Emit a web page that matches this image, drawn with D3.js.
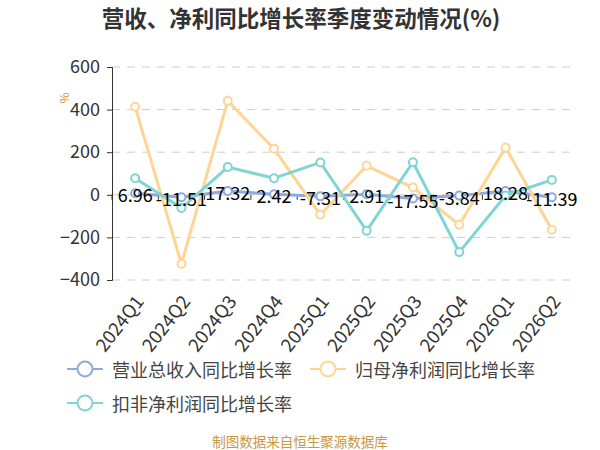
<!DOCTYPE html>
<html>
<head>
<meta charset="utf-8">
<script src="https://cdn.jsdelivr.net/npm/d3@7"></script>
<style>
  body { margin: 0; background: #fff; }
  svg text { font-family: "Noto Sans CJK SC", "Noto Sans", sans-serif; }
</style>
</head>
<body>
<div id="chart"></div>
<script>
// quarters and series values (%)
var quarters = ["2024Q1", "2024Q2", "2024Q3", "2024Q4", "2025Q1", "2025Q2", "2025Q3", "2025Q4", "2026Q1", "2026Q2"];
var revenueGrowth = [6.96, -11.51, 17.32, 2.42, -7.31, 2.91, -17.55, -3.84, 18.28, -11.39];
var netProfitGrowth = [413, -324, 441, 216, -94, 136, 34, -141, 222, -164];
var deductedProfitGrowth = [78, -62, 130, 78, 152, -169, 153, -269, -3, 70];
var yTicks = [-400, -200, 0, 200, 400, 600];
var seriesNames = ["营业总收入同比增长率", "归母净利润同比增长率", "扣非净利润同比增长率"];
var seriesColors = ["#8eaadb", "#fed595", "#80d4d4"];

var width = 600, height = 450;
var margin = { top: 67, right: 25, bottom: 170, left: 112 };

var svg = d3.select("#chart").append("svg")
    .attr("width", width)
    .attr("height", height);

// title
svg.append("text")
    .attr("x", 301)
    .attr("y", 17)
    .attr("text-anchor", "middle")
    .attr("dominant-baseline", "central")
    .attr("font-size", 22.5)
    .attr("font-weight", "bold")
    .attr("fill", "#333")
    .text("营收、净利同比增长率季度变动情况(%)");

var x = d3.scaleBand()
    .domain(quarters)
    .range([margin.left, width - margin.right]);

var y = d3.scaleLinear()
    .domain([-400, 600])
    .range([height - margin.bottom, margin.top]);

// grid lines
svg.append("g")
    .selectAll("line")
    .data(yTicks)
    .enter()
    .append("line")
    .attr("x1", margin.left)
    .attr("x2", width - margin.right)
    .attr("y1", function(d) { return y(d); })
    .attr("y2", function(d) { return y(d); })
    .attr("stroke", "#ccc")
    .attr("stroke-width", 1)
    .attr("stroke-dasharray", "8,7");

// y axis
var yAxis = d3.axisLeft(y)
    .tickValues(yTicks)
    .tickSize(5)
    .tickPadding(7);

var yG = svg.append("g")
    .attr("transform", "translate(" + margin.left + ",0)")
    .call(yAxis);
yG.select(".domain").attr("stroke", "#333");
yG.selectAll(".tick line").attr("stroke", "#333");
yG.selectAll(".tick text")
    .attr("font-size", 18)
    .attr("fill", "#333")
    .attr("font-family", "'Noto Sans', sans-serif");

// y axis unit
svg.append("text")
    .attr("transform", "translate(63,98) rotate(-90)")
    .attr("text-anchor", "middle")
    .attr("dominant-baseline", "central")
    .attr("font-size", 12)
    .attr("fill", "#d98c2b")
    .text("%");

// x ticks on the zero line at band boundaries
var boundaries = quarters.map(function(q) { return x(q); }).concat([x.range()[1]]);
svg.append("g")
    .selectAll("line")
    .data(boundaries)
    .enter()
    .append("line")
    .attr("x1", function(d) { return d; })
    .attr("x2", function(d) { return d; })
    .attr("y1", y(0))
    .attr("y2", y(0) + 5)
    .attr("stroke", "#333");

// x labels
svg.append("g")
    .selectAll("text")
    .data(quarters)
    .enter()
    .append("text")
    .attr("transform", function(d) {
        return "translate(" + (x(d) + x.bandwidth() / 2 + 3.5) + "," + (height - margin.bottom + 17) + ") rotate(-52)";
    })
    .attr("text-anchor", "end")
    .attr("dominant-baseline", "central")
    .attr("font-size", 18.5)
    .attr("fill", "#333")
    .attr("font-family", "'Noto Sans', sans-serif")
    .text(function(d) { return d; });

// lines
var allSeries = [revenueGrowth, netProfitGrowth, deductedProfitGrowth];
var line = d3.line()
    .x(function(d, i) { return x(quarters[i]) + x.bandwidth() / 2; })
    .y(function(d) { return y(d); });

allSeries.forEach(function(values, si) {
    svg.append("path")
        .datum(values)
        .attr("d", line)
        .attr("fill", "none")
        .attr("stroke", seriesColors[si])
        .attr("stroke-width", 3);

    svg.append("g")
        .selectAll("circle")
        .data(values)
        .enter()
        .append("circle")
        .attr("cx", function(d, i) { return x(quarters[i]) + x.bandwidth() / 2; })
        .attr("cy", function(d) { return y(d); })
        .attr("r", 4)
        .attr("fill", "#fff")
        .attr("stroke", seriesColors[si])
        .attr("stroke-width", 2);
});

// revenue labels
svg.append("g")
    .selectAll("text")
    .data(revenueGrowth)
    .enter()
    .append("text")
    .attr("x", function(d, i) { return x(quarters[i]) + x.bandwidth() / 2; })
    .attr("y", function(d) { return y(d) + 1; })
    .attr("text-anchor", "middle")
    .attr("dominant-baseline", "central")
    .attr("font-size", 18)
    .attr("fill", "#000")
    .attr("font-family", "'Noto Sans', sans-serif")
    .text(function(d) { return d; });

// legend
var legendItems = [
    { x: 67, y: 369 },
    { x: 310, y: 369 },
    { x: 67, y: 403 }
];
var legend = svg.append("g")
    .selectAll("g")
    .data(legendItems)
    .enter()
    .append("g")
    .attr("transform", function(d) { return "translate(" + d.x + "," + d.y + ")"; });

legend.append("line")
    .attr("x1", 0)
    .attr("x2", 36)
    .attr("stroke", function(d, i) { return seriesColors[i]; })
    .attr("stroke-width", 2);

legend.append("circle")
    .attr("cx", 18)
    .attr("r", 7.5)
    .attr("fill", "#fff")
    .attr("stroke", function(d, i) { return seriesColors[i]; })
    .attr("stroke-width", 2);

legend.append("text")
    .attr("x", 45)
    .attr("dominant-baseline", "central")
    .attr("font-size", 18)
    .attr("fill", "#444")
    .text(function(d, i) { return seriesNames[i]; });

// footer
svg.append("text")
    .attr("x", 300)
    .attr("y", 441)
    .attr("text-anchor", "middle")
    .attr("dominant-baseline", "central")
    .attr("font-size", 13.5)
    .attr("fill", "#c9973d")
    .text("制图数据来自恒生聚源数据库");
</script>
</body>
</html>
